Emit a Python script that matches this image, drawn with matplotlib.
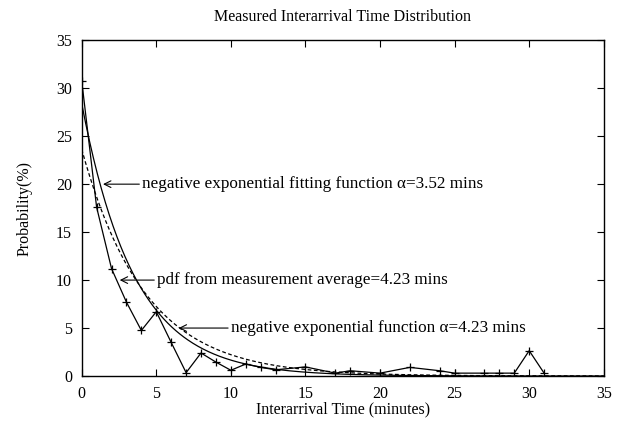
import numpy as np
import matplotlib
matplotlib.use("Agg")
import matplotlib.pyplot as plt

plt.rcParams['font.family'] = ['Liberation Serif', 'DejaVu Serif']

# measured interarrival time distribution (minutes, %)
minutes = [0, 1, 2, 3, 4, 5, 6, 7, 8, 9, 10, 11, 12, 13, 15, 17, 18, 20,
           22, 24, 25, 27, 28, 29, 30, 31]
prob = [30.8, 17.6, 11.2, 7.7, 4.75, 6.7, 3.5, 0.35, 2.4, 1.45, 0.6, 1.25,
        0.9, 0.65, 0.95, 0.3, 0.55, 0.3, 0.9, 0.55, 0.3, 0.3, 0.3, 0.3,
        2.64, 0.3]

alpha_fit = 3.52   # negative exponential fitting function
alpha_avg = 4.23   # from measurement average

xticks = [0, 5, 10, 15, 20, 25, 30, 35]
yticks = [0, 5, 10, 15, 20, 25, 30, 35]

fig = plt.figure(figsize=(6.26, 4.33), dpi=100)
ax = fig.add_axes([0.1305, 0.1316, 0.834, 0.7754])

xs = np.linspace(0, 35, 400)
ax.plot(xs, 100.0 / alpha_fit * np.exp(-xs / alpha_fit), color='black', lw=0.9)
ax.plot(xs, 100.0 / alpha_avg * np.exp(-xs / alpha_avg), color='black', lw=0.9,
        ls=(0, (3, 2)))
ax.plot(minutes, prob, color='black', lw=0.9, marker='+', ms=6, mew=0.9)

arrow = dict(arrowstyle='->', lw=0.8, color='black', shrinkA=0, shrinkB=0,
             mutation_scale=12)
fs = 11.5
afs = 12.3
ax.annotate('negative exponential fitting function \u03b1=3.52 mins',
            xy=(1.43, 20), xytext=(4.05, 20), va='center', ha='left',
            fontsize=afs, arrowprops=arrow)
ax.annotate('pdf from measurement average=4.23 mins',
            xy=(2.55, 10), xytext=(5.05, 10), va='center', ha='left',
            fontsize=afs, arrowprops=arrow)
ax.annotate('negative exponential function \u03b1=4.23 mins',
            xy=(6.5, 5), xytext=(10.0, 5), va='center', ha='left',
            fontsize=afs, arrowprops=arrow)

ax.set_xlim(0, 35)
ax.set_ylim(0, 35)
ax.set_xticks(xticks)
ax.set_yticks(yticks)
ax.tick_params(direction='in', top=True, right=True, length=5, width=0.8,
               labelsize=fs, pad=7)
for s in ax.spines.values():
    s.set_linewidth(1.0)

ax.set_title('Measured Interarrival Time Distribution', fontsize=fs, pad=14)
ax.set_xlabel('Interarrival Time (minutes)', fontsize=fs, labelpad=0)
ax.set_ylabel('Probability(%)', fontsize=fs, labelpad=17)

fig.savefig('out.png', dpi=100)
